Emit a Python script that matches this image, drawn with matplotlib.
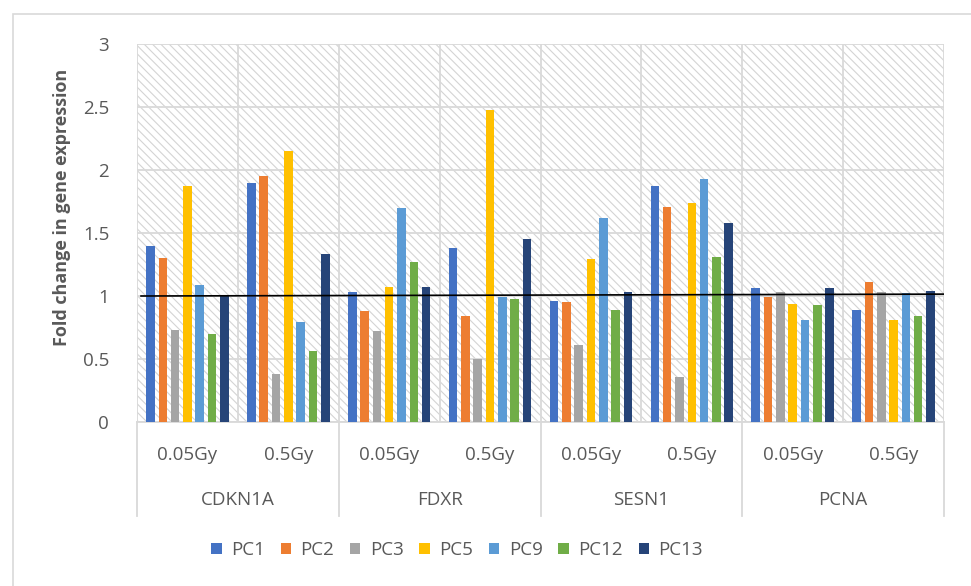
import matplotlib.pyplot as plt
import numpy as np
from matplotlib.lines import Line2D
from matplotlib.patches import Patch, Rectangle
from matplotlib.transforms import blended_transform_factory

# Fold change per gene / dose, one list per cell line
genes = ["CDKN1A", "FDXR", "SESN1", "PCNA"]
doses = ["0.05Gy", "0.5Gy"]
series_names = ["PC1", "PC2", "PC3", "PC5", "PC9", "PC12", "PC13"]

pc1 = [1.40, 1.90, 1.03, 1.38, 0.96, 1.87, 1.06, 0.89]
pc2 = [1.30, 1.95, 0.88, 0.84, 0.95, 1.71, 0.99, 1.11]
pc3 = [0.73, 0.38, 0.72, 0.50, 0.61, 0.36, 1.03, 1.03]
pc5 = [1.87, 2.15, 1.07, 2.48, 1.29, 1.74, 0.94, 0.81]
pc9 = [1.09, 0.79, 1.70, 0.99, 1.62, 1.93, 0.81, 1.02]
pc12 = [0.70, 0.56, 1.27, 0.98, 0.89, 1.31, 0.93, 0.84]
pc13 = [1.01, 1.33, 1.07, 1.45, 1.03, 1.58, 1.06, 1.04]

# baseline marker drawn across the plot (fold change = 1)
baseline = [1.0, 1.015]

series = [pc1, pc2, pc3, pc5, pc9, pc12, pc13]
colors = ["#4472C4", "#ED7D31", "#A5A5A5", "#FFC000", "#5B9BD5", "#70AD47", "#264478"]

plt.rcParams["font.family"] = ["Open Sans", "DejaVu Sans"]
plt.rcParams["hatch.linewidth"] = 0.8
text_color = "#595959"
grid_color = "#D9D9D9"
fs = 13.5

fig = plt.figure(figsize=(9.71, 5.86), dpi=100)
ax = fig.add_axes([137 / 971, 164 / 586, 807 / 971, 378 / 586])

# chart area border
fig.add_artist(Rectangle((13 / 971, -0.1), 1.2, 1.076, transform=fig.transFigure,
                         facecolor="none", edgecolor=grid_color, linewidth=1.2))

# hatched plot background
ax.add_patch(Rectangle((0, 0), 1, 1, transform=ax.transAxes, facecolor="white",
                       edgecolor="#D4D4D4", hatch="\\\\\\\\", linewidth=0, zorder=0))

n_groups = len(genes) * len(doses)
pitch = 0.122
width = 0.085
centers = np.arange(n_groups) + 0.5
for i, (vals, col) in enumerate(zip(series, colors)):
    ax.bar(centers + (i - 3) * pitch, vals, width=width, color=col, zorder=3,
           label=series_names[i])

ax.plot([0.04, 8.02], baseline, color="black", linewidth=1.2, zorder=4)

ax.set_xlim(0, n_groups)
ax.set_ylim(0, 3)
ax.set_yticks(np.arange(0, 3.01, 0.5))
ax.set_yticklabels(["0", "0.5", "1", "1.5", "2", "2.5", "3"])
ax.set_xticks([])
ax.set_xticks(np.arange(0, n_groups + 1), minor=True)
ax.tick_params(axis="y", length=0, pad=20, labelsize=fs, labelcolor=text_color)
ax.tick_params(axis="x", which="both", length=0, labelbottom=False)
ax.grid(axis="y", color=grid_color, linewidth=1.3, zorder=1)
ax.grid(axis="x", which="minor", color=grid_color, linewidth=1.3, zorder=1)
ax.set_axisbelow(True)
for side in ["top", "right", "left"]:
    ax.spines[side].set_visible(False)
ax.spines["bottom"].set_color(grid_color)
ax.spines["bottom"].set_linewidth(1.3)

# two-level category axis
trans = blended_transform_factory(ax.transData, ax.transAxes)
for g in range(0, n_groups + 1, len(doses)):
    ax.add_line(Line2D([g, g], [0, -0.249], transform=trans, color=grid_color,
                       linewidth=1.3, clip_on=False))
for k in range(n_groups):
    ax.text(k + 0.5, -0.087, doses[k % len(doses)], transform=trans, ha="center",
            va="center", fontsize=fs, color=text_color)
for j, gene in enumerate(genes):
    ax.text(j * len(doses) + len(doses) / 2, -0.206, gene, transform=trans,
            ha="center", va="center", fontsize=fs, color=text_color)

fig.text(62 / 971, 1 - 207 / 586, "Fold change in gene expression", rotation=90,
         ha="center", va="center", fontsize=13, fontweight="bold", color=text_color)

handles = [Patch(facecolor=c, edgecolor="none") for c in colors]
fig.legend(handles, series_names, loc="center", bbox_to_anchor=(457 / 971, 1 - 550 / 586),
           ncol=7, frameon=False, fontsize=fs, labelcolor=text_color,
           handlelength=0.55, handleheight=0.55, handletextpad=0.5, columnspacing=0.85)

fig.savefig("out.png", dpi=100, facecolor="white")
